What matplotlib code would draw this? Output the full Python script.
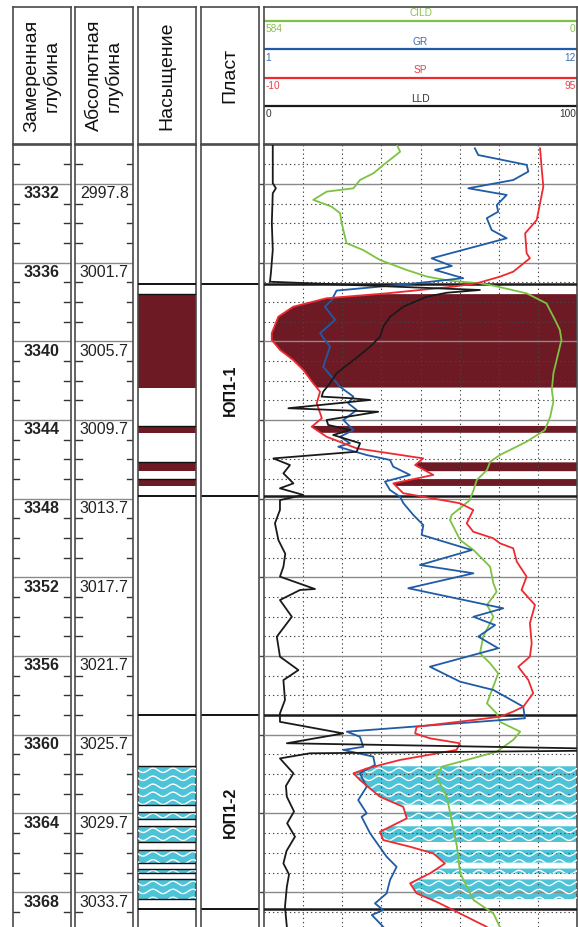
import numpy as np
import matplotlib.pyplot as plt
from matplotlib.patches import Polygon, Rectangle

plt.rcParams['font.family'] = ['Liberation Sans', 'DejaVu Sans']

W, H = 578, 927
TOP_D, BOT_D = 3330.02, 3369.77
PX_PER_M = 19.67

# --- depth labels
md_major = [3332, 3336, 3340, 3344, 3348, 3352, 3356, 3360, 3364, 3368]
tvd_major = ['2997.8', '3001.7', '3005.7', '3009.7', '3013.7',
             '3017.7', '3021.7', '3025.7', '3029.7', '3033.7']

# --- formations
form_names = ['ЮП1-1', 'ЮП1-2']
form_top = [3337.1, 3359.0]
form_bot = [3347.85, 3368.85]

# --- saturation intervals
oil_top = [3337.6, 3344.3, 3346.15, 3347.0]
oil_bot = [3342.35, 3344.65, 3346.6, 3347.35]
water_top = [3361.6, 3363.9, 3364.65, 3365.85, 3366.8, 3367.35]
water_bot = [3363.55, 3364.3, 3365.45, 3366.5, 3367.05, 3368.35]

# --- curves (depth, value)
lld_pts = [(3330.0, 2.8), (3331.96, 2.8), (3332.22, 3.8), (3332.47, 2.8), (3333.98, 2.5),
           (3335.36, 2.8), (3336.54, 2.2), (3336.97, 1.9), (3337.39, 69), (3337.53, 58.4),
           (3337.73, 52), (3338.24, 44.5), (3338.75, 40.3), (3339.25, 38.1), (3339.76, 37.1),
           (3340.27, 33.9), (3340.69, 30.7), (3341.62, 23.2), (3342.13, 21.1), (3342.56, 18.9),
           (3342.81, 18.4), (3342.89, 27.5), (3342.98, 33.9), (3343.40, 7.8), (3343.58, 36.5),
           (3344.00, 20.0), (3344.25, 20.5), (3344.51, 27.5), (3344.76, 22.1), (3345.18, 30.7),
           (3345.61, 29.6), (3345.95, 3.0), (3346.29, 8.3), (3346.71, 6.2), (3347.22, 9.4),
           (3347.47, 5.1), (3347.81, 12.6), (3348.07, 5.1), (3348.57, 5.1), (3349.25, 3.5),
           (3350.10, 4.6), (3350.8, 6.8), (3351.46, 6.2), (3351.96, 5.1), (3352.59, 16.3),
           (3352.64, 11.5), (3353.15, 5.1), (3354.00, 8.9), (3355.01, 4.1), (3356.03, 5.1),
           (3356.71, 11.0), (3357.22, 6.2), (3358.23, 6.7), (3358.91, 5.1), (3359.34, 5.1),
           (3359.93, 25.3), (3360.43, 7.3), (3360.77, 130), (3360.94, 14.7), (3361.20, 5.1),
           (3361.96, 9.4), (3362.6, 7.0), (3363.15, 7.3), (3363.9, 9.6), (3364.5, 7.4),
           (3365.18, 9.9), (3365.9, 7.2), (3366.54, 6.2), (3367.1, 8.0), (3367.72, 7.3),
           (3368.74, 6.7), (3369.76, 7.3)]

gr_pts = [(3330.19, 8.41), (3330.53, 8.53), (3331.03, 10.23), (3331.37, 10.29), (3331.80, 9.76),
          (3332.22, 8.18), (3332.56, 9.53), (3333.07, 9.18), (3333.41, 9.23), (3333.74, 8.83),
          (3334.34, 9.00), (3334.76, 9.53), (3335.78, 6.89), (3336.17, 7.60), (3336.37, 7.01),
          (3336.79, 8.00), (3337.08, 6.13), (3337.42, 3.55), (3337.90, 3.38), (3338.24, 3.14),
          (3338.91, 3.50), (3339.59, 2.97), (3340.27, 3.32), (3341.29, 3.08), (3342.31, 3.67),
          (3342.81, 4.14), (3343.15, 3.96), (3343.49, 4.26), (3344.00, 3.79), (3344.51, 4.14),
          (3344.85, 3.67), (3345.18, 4.02), (3345.36, 3.61), (3345.78, 4.61), (3346.03, 5.43),
          (3346.37, 5.54), (3346.79, 6.13), (3347.13, 5.25), (3347.56, 5.43), (3347.90, 5.78),
          (3348.23, 5.90), (3348.83, 6.25), (3349.34, 6.60), (3349.84, 6.54), (3350.61, 8.30),
          (3351.37, 6.48), (3351.79, 8.36), (3352.55, 6.07), (3353.57, 9.41), (3354.00, 8.36),
          (3354.42, 9.12), (3355.01, 8.53), (3355.60, 9.23), (3356.54, 6.83), (3357.30, 7.89),
          (3357.72, 9.06), (3358.57, 10.11), (3359.16, 10.17), (3359.84, 3.91), (3360.10, 4.37),
          (3360.61, 4.49), (3360.77, 3.79), (3361.11, 4.84), (3361.53, 4.90), (3361.96, 4.37),
          (3362.64, 4.61), (3363.32, 4.31), (3363.99, 4.61), (3364.17, 4.43), (3365.01, 4.73),
          (3366.20, 5.31), (3366.71, 5.66), (3367.38, 5.43), (3368.06, 5.31), (3368.57, 4.90),
          (3368.91, 5.19), (3369.16, 4.79), (3369.76, 5.19)]

sp_pts = [(3330.19, 82.6), (3331.29, 83.2), (3332.14, 83.7), (3332.98, 82.6), (3333.83, 81.5),
          (3334.51, 77.6), (3335.52, 78.1), (3335.78, 79.2), (3336.46, 73.6), (3336.71, 69.2),
          (3337.05, 61.4), (3337.22, 53.5), (3337.56, 31.2), (3337.81, 11.0), (3338.24, -0.2),
          (3338.75, -5.2), (3339.59, -7.4), (3339.93, -7.4), (3340.44, -4.6), (3340.95, -0.2),
          (3341.46, 3.2), (3342.13, 6.5), (3342.56, 8.8), (3343.15, 7.7), (3343.91, 9.4),
          (3344.34, 6.0), (3344.85, 11.0), (3345.44, 21.1), (3345.95, 43.4), (3346.29, 40.7),
          (3346.79, 46.8), (3347.22, 33.4), (3347.72, 36.7), (3347.81, 40.1), (3348.23, 55.7),
          (3348.57, 60.2), (3349.25, 58.0), (3349.68, 60.2), (3350.01, 66.9), (3350.27, 69.2),
          (3350.52, 73.6), (3351.20, 74.8), (3351.96, 78.1), (3352.64, 76.4), (3353.40, 80.9),
          (3354.33, 79.2), (3355.35, 79.8), (3356.03, 79.2), (3356.54, 75.3), (3357.22, 78.7),
          (3357.89, 80.3), (3358.57, 77.0), (3358.82, 73.6), (3359.08, 69.2), (3359.25, 60.2),
          (3359.59, 41.2), (3359.93, 40.7), (3360.18, 45.7), (3360.43, 55.7), (3360.77, 54.6),
          (3361.28, 35.6), (3361.71, 24.5), (3361.96, 20.0), (3362.30, 22.2), (3363.15, 28.9),
          (3363.66, 36.7), (3364.25, 37.9), (3364.93, 28.9), (3365.35, 30.0), (3365.69, 39.0),
          (3366.03, 46.8), (3366.54, 50.7), (3367.04, 45.7), (3367.55, 39.0), (3368.06, 41.2),
          (3368.49, 47.9), (3368.91, 53.5), (3369.42, 60.2), (3369.76, 64.7)]

cild_pts = [(3330.02, 336), (3330.36, 330), (3331.03, 361), (3331.46, 380), (3331.80, 405),
            (3332.22, 417), (3332.39, 467), (3332.81, 492), (3333.15, 458), (3333.49, 442),
            (3334.00, 439), (3334.68, 433), (3335.01, 430), (3335.36, 399), (3335.86, 368),
            (3336.37, 318), (3336.71, 280), (3336.92, 237), (3337.05, 181), (3337.17, 156),
            (3337.56, 94), (3338.07, 57), (3338.91, 41), (3339.42, 32), (3339.93, 29),
            (3340.95, 38), (3341.62, 44), (3342.47, 47), (3343.07, 44), (3343.83, 50),
            (3344.51, 60), (3345.10, 94), (3345.78, 144), (3346.12, 162), (3346.54, 168),
            (3347.05, 187), (3347.56, 193), (3348.07, 200), (3348.83, 234), (3349.08, 237),
            (3350.10, 218), (3350.61, 193), (3351.46, 162), (3352.30, 156), (3352.73, 150),
            (3353.40, 168), (3354.00, 156), (3355.01, 175), (3355.86, 181), (3356.37, 162),
            (3356.88, 147), (3358.40, 168), (3358.91, 150), (3359.34, 144), (3359.84, 106),
            (3360.26, 119), (3360.86, 150), (3361.28, 206), (3361.62, 252), (3362.13, 262),
            (3363.15, 243), (3364.33, 234), (3365.69, 224), (3367.04, 218), (3368.40, 193),
            (3369.08, 156), (3369.76, 144)]

# curve scales as in header: name, left value, right value, colour
curve_names = ['CILD', 'GR', 'SP', 'LLD']
curve_left = [584, 1, -10, 0]
curve_right = [0, 12, 95, 100]
line_col = ['#7dc242', '#1f5ba6', '#ee2a30', '#1a1a1a']
text_col = ['#8cc152', '#3a6fb0', '#e8404a', '#333333']

MAROON = '#6e1a25'
CYAN = '#4cc3d7'
BORDER = '#4a4a4a'

fig = plt.figure(figsize=(W / 100, H / 100), dpi=100)


def box(x0, y0, x1, y1):
    return fig.add_axes([x0 / W, 1 - y1 / H, (x1 - x0) / W, (y1 - y0) / H])


def body(x0, x1):
    ax = box(x0, 145, x1, H)
    ax.set_xlim(0, 1)
    ax.set_ylim(BOT_D, TOP_D)
    ax.set_xticks([])
    ax.set_yticks([])
    for s in ax.spines.values():
        s.set_color(BORDER)
        s.set_linewidth(1.2)
    ax.spines['bottom'].set_visible(False)
    return ax


def header(x0, x1):
    ax = box(x0, 7, x1, 144)
    ax.set_xlim(0, 1)
    ax.set_ylim(144, 7)
    ax.set_xticks([])
    ax.set_yticks([])
    for s in ax.spines.values():
        s.set_color(BORDER)
        s.set_linewidth(1.2)
    return ax


def frac(vals, lo, hi):
    return (np.asarray(vals, float) - lo) / (hi - lo)


def waves(ax, clip, d0, d1, width_px):
    # white wavy pattern drawn over cyan fill
    row = 8 / PX_PER_M
    amp = 2.2 / PX_PER_M
    xs = np.linspace(0, 1, 400)
    y = d0 + row * 0.5
    while y < d1 + row:
        ln, = ax.plot(xs, y + amp * np.sin(2 * np.pi * xs * width_px / 20.0),
                      color='white', lw=1.0, zorder=3)
        ln.set_clip_path(clip)
        y += row


tracks = [(12.7, 70.7), (75.3, 133.3), (138, 196), (200.7, 259.3), (264, 577)]
head_txt = ['Замеренная\nглубина', 'Абсолютная\nглубина', 'Насыщение', 'Пласт']

for (x0, x1), t in zip(tracks[:4], head_txt):
    h = header(x0, x1)
    h.text(0.5, 75.5, t, rotation=90, ha='center', va='center',
           multialignment='center', fontsize=14, color='#111111', linespacing=1.15)

# depth tracks
all_m = np.arange(3331, 3370)
for k, (x0, x1) in enumerate(tracks[:2]):
    ax = body(x0, x1)
    tl = 6.5 / (x1 - x0)
    for d in all_m:
        if d % 4 == 0:
            ax.axhline(d, color='#8a8a8a', lw=1.0)
        else:
            ax.plot([0, tl], [d, d], color='#333333', lw=1.0)
            ax.plot([1 - tl, 1], [d, d], color='#333333', lw=1.0)
    labels = md_major if k == 0 else tvd_major
    for d, lab in zip(md_major, labels):
        ax.text(0.5, d + 0.5, str(lab), ha='center', va='center', fontsize=11.5,
                fontweight='bold' if k == 0 else 'normal', color='#222222')

# saturation track
ax3 = body(*tracks[2])
for t, b in zip(oil_top, oil_bot):
    ax3.add_patch(Rectangle((0, t), 1, b - t, facecolor=MAROON, edgecolor='none', zorder=2))
    ax3.hlines([t], 0, 1, color='#111111', lw=1.0, zorder=4)
for t, b in zip(water_top, water_bot):
    r = Rectangle((0, t), 1, b - t, facecolor=CYAN, edgecolor='none', zorder=2)
    ax3.add_patch(r)
    waves(ax3, r, t, b, tracks[2][1] - tracks[2][0])
    ax3.hlines([t, b], 0, 1, color='#111111', lw=1.0, zorder=4)
for d in form_top + form_bot:
    ax3.axhline(d, color='#111111', lw=1.4, zorder=5)

# formation track
ax4 = body(*tracks[3])
for name, t, b in zip(form_names, form_top, form_bot):
    ax4.axhline(t, color='#111111', lw=1.4)
    ax4.axhline(b, color='#111111', lw=1.4)
    ax4.text(0.5, (t + b) / 2, name, rotation=90, ha='center', va='center',
             fontsize=11.5, fontweight='bold', color='#111111')

# curve header
h5 = header(*tracks[4])
line_y = [20.7, 49.3, 77.7, 106]
for nm, lo, hi, lc, tc, y in zip(curve_names, curve_left, curve_right, line_col, text_col, line_y):
    h5.axhline(y, color=lc, lw=1.6)
    h5.text(0.5, y - 7.3, nm, ha='center', va='center', fontsize=7.3, color=tc)
    h5.text(0.004, y + 8.5, str(lo), ha='left', va='center', fontsize=7.3, color=tc)
    h5.text(0.996, y + 8.5, str(hi), ha='right', va='center', fontsize=7.3, color=tc)

# curve track
ax5 = body(*tracks[4])
for i in range(1, 8):
    ax5.axvline(i / 8, color='#444444', lw=0.8, ls=(0, (1.2, 2.6)), zorder=3)
for d in all_m:
    if d % 4 == 0:
        ax5.axhline(d, color='#8a8a8a', lw=1.0, zorder=3)
        ax5.plot([-0.012, 0], [d, d], color='#444444', lw=1.0, clip_on=False)
    else:
        ax5.axhline(d, color='#444444', lw=0.8, ls=(0, (1.2, 2.6)), zorder=3)
for d in form_top + form_bot:
    ax5.axhline(d, color='#1a1a1a', lw=1.8, zorder=4)

sp_d = np.array([p[0] for p in sp_pts])
sp_x = frac([p[1] for p in sp_pts], curve_left[2], curve_right[2])

for t, b in zip(oil_top, oil_bot):
    dd = np.linspace(t, b, 80)
    xx = np.interp(dd, sp_d, sp_x)
    verts = np.column_stack([np.r_[xx, 1, 1], np.r_[dd, b, t]])
    ax5.add_patch(Polygon(verts, closed=True, facecolor=MAROON, edgecolor='none', zorder=2))
for t, b in zip(water_top, water_bot):
    dd = np.linspace(t, b, 80)
    xx = np.interp(dd, sp_d, sp_x)
    verts = np.column_stack([np.r_[xx, 1, 1], np.r_[dd, b, t]])
    pg = Polygon(verts, closed=True, facecolor=CYAN, edgecolor='none', zorder=2)
    ax5.add_patch(pg)
    waves(ax5, pg, t, b, tracks[4][1] - tracks[4][0])

for pts, lo, hi, c in zip([cild_pts, gr_pts, sp_pts, lld_pts], curve_left, curve_right, line_col):
    d = [p[0] for p in pts]
    x = frac([p[1] for p in pts], lo, hi)
    ax5.plot(x, d, color=c, lw=1.3, zorder=6)

fig.savefig('out.png', dpi=100)
